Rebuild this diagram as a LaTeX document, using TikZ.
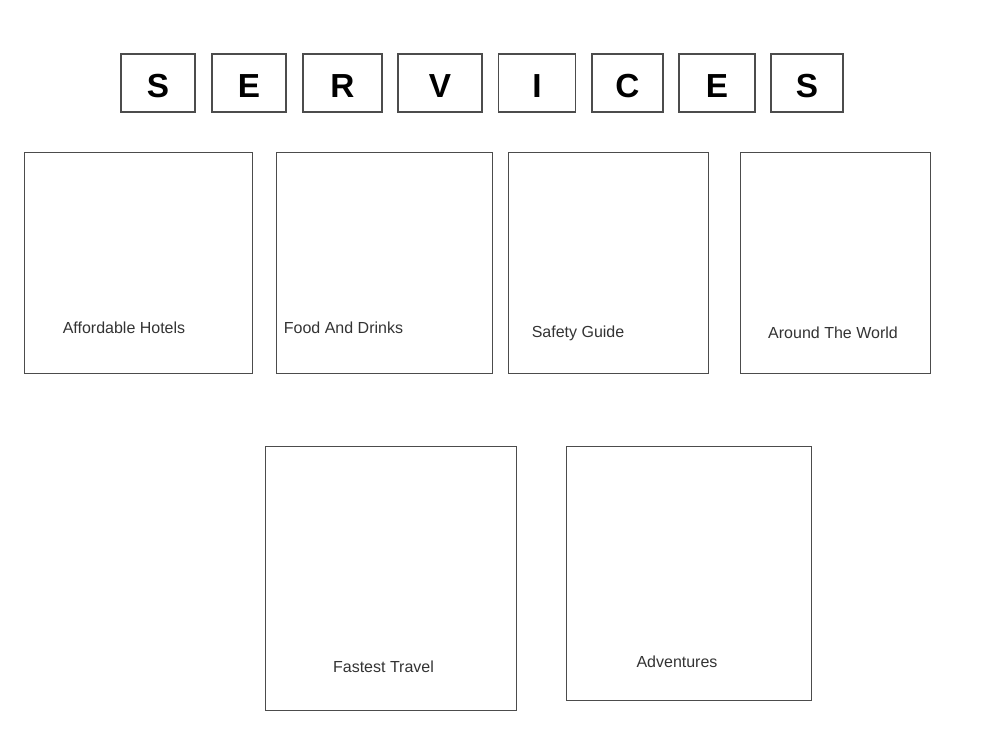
\documentclass[tikz,border=0pt]{standalone}
\usepackage{fontspec}
\setmainfont{Liberation Sans}
\definecolor{boxgray}{rgb}{0.3,0.3,0.3}
\definecolor{txtgray}{rgb}{0.2,0.2,0.2}
\begin{document}
\begin{tikzpicture}[x=0.75pt,y=-0.75pt,
  letterbox/.style={draw=boxgray,line width=0.9pt,minimum height=43.5pt,inner sep=0pt},
  letterfont/.style={inner sep=0pt,yshift=-2.6pt,font=\bfseries\fontsize{25}{25}\selectfont},
  cardbox/.style={draw=boxgray,line width=1pt,anchor=north west,inner sep=0pt},
  cardlabel/.style={text=txtgray,inner sep=0pt,font=\fontsize{12}{14}\selectfont}]
\useasboundingbox (0,0) rectangle (991,729);
% title letters
\foreach \n/\c/\w/\l in {ls1/158/74/S, le1/249/74/E, lr/342.5/79/R, lv/440/84/V, li/537/77/I, lc/627.5/71/C, le2/717/76/E, ls2/807/72/S}
  \node[letterbox,minimum width=\w*0.75pt,label={[letterfont]center:\l}] (\n) at (\c,83) {};
% service cards
\foreach \n/\a/\b/\c/\d in {hotels/24/152/252/373, food/276/152/492/373, safety/508/152/708/373, world/740/152/930/373, travel/265/446/516/710, adventure/566/446/811/700}
  \node[cardbox,minimum width={(\c-\a)*0.75pt},minimum height={(\d-\b)*0.75pt}] (\n) at (\a,\b) {};
\node[cardlabel] (hotelstext) at (124,328) {Affordable Hotels};
\node[cardlabel] (foodtext) at (343.5,328) {Food And Drinks};
\node[cardlabel] (safetytext) at (578,333) {Safety Guide};
\node[cardlabel] (worldtext) at (833,333) {Around The World};
\node[cardlabel] (traveltext) at (383.5,667) {Fastest Travel};
\node[cardlabel] (adventuretext) at (677,662) {Adventures};
\end{tikzpicture}
\end{document}
